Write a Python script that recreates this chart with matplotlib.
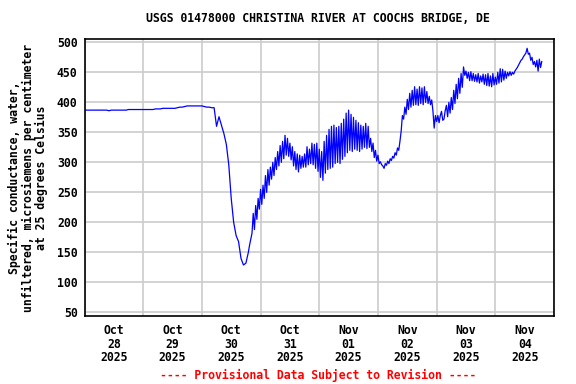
import numpy as np
import matplotlib
matplotlib.use("Agg")
import matplotlib.pyplot as plt

title = "USGS 01478000 CHRISTINA RIVER AT COOCHS BRIDGE, DE"
ylabel = "Specific conductance, water,\nunfiltered, microsiemens per centimeter\nat 25 degrees Celsius"
footer = "---- Provisional Data Subject to Revision ----"
start = np.datetime64("2025-10-28T00:00")
end = np.datetime64("2025-11-05T00:00")
y_ticks = [50, 100, 150, 200, 250, 300, 350, 400, 450, 500]
day_labels = ["Oct\n28\n2025", "Oct\n29\n2025", "Oct\n30\n2025", "Oct\n31\n2025",
              "Nov\n01\n2025", "Nov\n02\n2025", "Nov\n03\n2025", "Nov\n04\n2025"]

# hourly readings, 2025-10-28 00:00 through 2025-10-30 18:00
hourly_values = [
    387, 387, 387, 387, 387, 387, 387, 387, 387, 387, 386, 387,
    387, 387, 387, 387, 387, 387, 388, 388, 388, 388, 388, 388,
    388, 388, 388, 388, 388, 389, 389, 389, 390, 390, 390, 390,
    390, 390, 391, 392, 392, 393, 394, 394, 394, 394, 394, 394,
    394, 393, 392, 392, 391, 391, 360, 376, 362, 348, 330, 296,
    240, 200, 178, 168, 140, 129, 132,
]

# half-hourly readings from 2025-10-30 19:00 onward
halfhour_values = [
    150, 162, 172, 182, 215, 188, 228, 205, 240, 222,  # Oct 30 19-23
    255, 230, 262, 240, 278, 250, 288, 262, 292, 272, 300, 278,  # Oct 31 00-05
    308, 288, 318, 294, 328, 300, 335, 306, 345, 312, 340, 310,  # 06-11
    332, 304, 326, 294, 318, 288, 314, 284, 312, 290, 310, 292,  # 12-17
    314, 292, 326, 296, 322, 298, 332, 296, 330, 290, 332, 285,  # 18-23
    322, 275, 318, 270, 335, 282, 345, 288, 355, 290, 360, 292,  # Nov 01 00-05
    362, 298, 358, 300, 360, 298, 365, 305, 372, 310, 382, 316,  # 06-11
    387, 320, 380, 318, 375, 322, 370, 320, 366, 318, 362, 322,  # 12-17
    360, 325, 365, 323, 360, 325, 340, 318, 332, 308, 320, 302,  # 18-23
    312, 298, 301, 296, 294, 290, 298, 295, 302, 298, 306, 303,  # Nov 02 00-05
    310, 307, 316, 312, 324, 320, 335, 352, 378, 372, 392, 380,  # 06-11
    405, 388, 415, 392, 420, 395, 426, 396, 422, 395, 426, 398,  # 12-17
    424, 396, 426, 400, 418, 398, 410, 396, 404, 385, 357, 378,  # 18-23
    368, 378, 366, 378, 385, 370, 372, 386, 395, 376, 400, 382,  # Nov 03 00-05
    408, 388, 420, 398, 430, 406, 440, 415, 448, 425, 459, 445,  # 06-11
    452, 440, 450, 436, 451, 436, 448, 435, 446, 434, 448, 432,  # 12-17
    444, 434, 447, 430, 446, 428, 448, 427, 444, 426, 448, 429,  # 18-23
    442, 430, 450, 432, 456, 434, 455, 437, 452, 440, 450, 444,  # Nov 04 00-05
    451, 445, 450, 447, 452, 455, 458, 462, 466, 470, 472, 476,  # 06-11
    479, 482, 490, 480, 482, 470, 475, 463, 468, 459, 470, 452,  # 12-17
    472, 458, 468,  # 18-19
]

t_hourly = start + np.arange(len(hourly_values)).astype("timedelta64[h]")
t_half = (start + np.timedelta64(len(hourly_values), "h")
          + (np.arange(len(halfhour_values)) * 30).astype("timedelta64[m]"))
times = np.concatenate([t_hourly.astype("datetime64[m]"), t_half])
values = hourly_values + halfhour_values

fig = plt.figure(figsize=(5.76, 3.84), dpi=100)
ax = fig.add_axes([84.5 / 576, 1 - 316 / 384, (554 - 84.5) / 576, (316 - 39.3) / 384])

font = dict(family="DejaVu Sans Mono", weight="bold", size=8.3)

ax.plot(times, values, color="#0000ff", lw=0.9)

ax.set_xlim(start, end)
ax.set_ylim(44, 505)

ax.set_yticks(y_ticks)
ax.set_yticklabels([str(v) for v in y_ticks], **font)

major = np.arange(start, end + np.timedelta64(1, "D"), np.timedelta64(1, "D"))
ax.set_xticks(major)
ax.set_xticklabels([])
ax.set_xticks(start + np.timedelta64(12, "h") + np.arange(len(day_labels)).astype("timedelta64[D]"), minor=True)
ax.set_xticklabels(day_labels, minor=True, linespacing=1.02, **font)

ax.tick_params(axis="both", which="both", length=0)
ax.tick_params(axis="y", pad=5)
ax.tick_params(axis="x", which="minor", pad=6)

ax.grid(True, which="major", color="#cccccc", lw=1.2)
ax.set_axisbelow(True)
for s in ax.spines.values():
    s.set_linewidth(1.2)
    s.set_color("black")

ax_center = 1 - ((39.3 + 316) / 2) / 384
fig.text(318 / 576, 1 - 19 / 384, title, ha="center", va="center", **font)
fig.text(28 / 576, ax_center, ylabel, rotation=90, ha="center", va="center",
         multialignment="center", linespacing=1.0, **font)
fig.text(318 / 576, 1 - 375 / 384, footer, ha="center", va="center", color="#ff0000", **font)

fig.savefig("out.png", dpi=100)
